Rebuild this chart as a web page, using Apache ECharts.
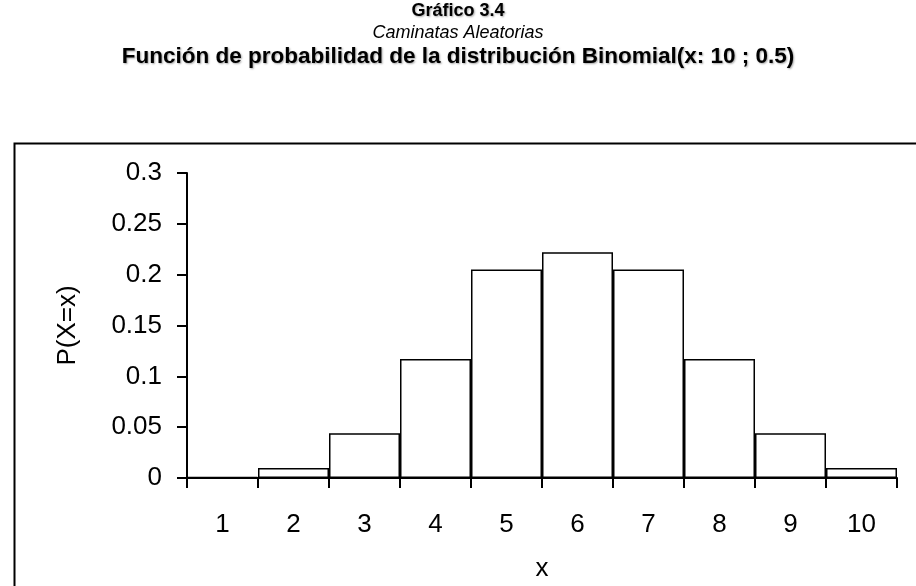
<!DOCTYPE html>
<html>
<head>
<meta charset="utf-8">
<script src="https://cdn.jsdelivr.net/npm/echarts@6/dist/echarts.min.js"></script>
<style>
html,body{margin:0;padding:0;background:#fff;}
#chart{width:916px;height:586px;}
</style>
</head>
<body>
<div id="chart"></div>
<script>
var categories = ['1','2','3','4','5','6','7','8','9','10'];
var probabilities = [0.001, 0.0098, 0.044, 0.117, 0.205, 0.222, 0.205, 0.117, 0.044, 0.0098];
var yTicks = [0, 0.05, 0.1, 0.15, 0.2, 0.25, 0.3];
var titleMain = 'Gráfico 3.4';
var titleSub = 'Caminatas Aleatorias';
var titleChart = 'Función de probabilidad de la distribución Binomial(x: 10 ; 0.5)';
var yName = 'P(X=x)';
var xName = 'x';

var FONT = '"Liberation Sans", Arial, sans-serif';
var chart = echarts.init(document.getElementById('chart'), null, {renderer:'canvas'});
var shadow = {textShadowColor:'rgba(0,0,0,0.35)', textShadowBlur:2, textShadowOffsetX:1, textShadowOffsetY:1};
chart.setOption({
  backgroundColor:'#ffffff',
  animation:false,
  graphic:[
    {type:'rect', left:12, top:141, shape:{width:920, height:460}, style:{fill:'none', stroke:'#000', lineWidth:2}, z:0},
    {type:'text', left:'center', top:2, style:Object.assign({text:titleMain, font:'bold 18px '+FONT, fill:'#000'}, shadow)},
    {type:'text', left:'center', top:24, style:{text:titleSub, font:'italic 18px '+FONT, fill:'#000'}},
    {type:'text', left:'center', top:45, style:Object.assign({text:titleChart, font:'bold 22.5px '+FONT, fill:'#000'}, shadow)}
  ],
  grid:{left:187, right:19, top:173, bottom:108, containLabel:false, outerBoundsMode:'none'},
  xAxis:{
    type:'category', data:categories,
    name:xName, nameLocation:'middle', nameGap:78,
    nameTextStyle:{fontFamily:FONT, fontSize:26, color:'#000'},
    axisLine:{lineStyle:{color:'#000', width:2}},
    axisTick:{show:true, length:10, lineStyle:{color:'#000', width:2}, alignWithLabel:false},
    axisLabel:{fontFamily:FONT, fontSize:26, color:'#000', margin:34}
  },
  yAxis:{
    type:'value', min:0, max:0.3, interval:0.05,
    name:yName, nameLocation:'middle', nameGap:106, nameRotate:90,
    nameTextStyle:{fontFamily:FONT, fontSize:26, color:'#000'},
    axisLine:{show:true, lineStyle:{color:'#000', width:2}},
    axisTick:{show:true, length:10, lineStyle:{color:'#000', width:2}},
    splitLine:{show:false},
    axisLabel:{fontFamily:FONT, fontSize:26, color:'#000', margin:25,
      formatter:function(v){ return String(Math.round(v*100)/100); }}
  },
  series:[{
    type:'bar', data:probabilities, barCategoryGap:'0%',
    itemStyle:{color:'#fff', borderColor:'#000', borderWidth:1.5}
  }]
});
</script>
</body>
</html>
